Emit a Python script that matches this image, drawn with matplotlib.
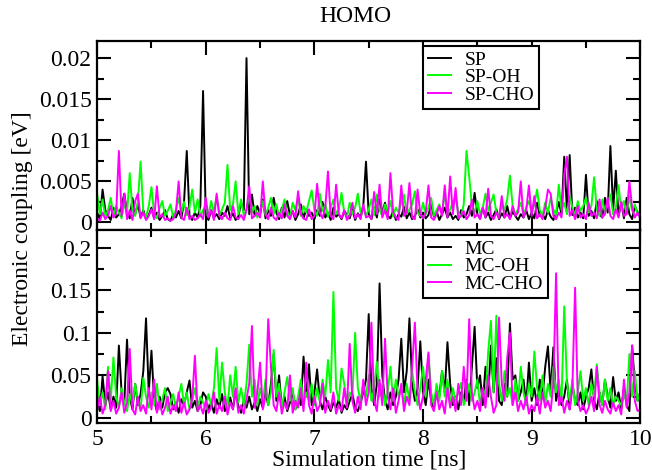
import numpy as np
import matplotlib
matplotlib.use("Agg")
import matplotlib.pyplot as plt
from matplotlib.ticker import MultipleLocator, FuncFormatter

plt.rcParams['font.family'] = ['Liberation Serif', 'DejaVu Serif']

# sampling grid: 5 to 10 ns, one frame every 25 ps
time_ns = np.linspace(5, 10, 201)

# HOMO couplings, spiropyran forms (meV)
sp = [1.2, 0.4, 4.0, 1.5, 0.8, 0.3, 1.8, 0.6, 1.0, 2.0, 3.5, 1.2, 0.5, 3.0, 1.0, 2.2, 0.6, 1.5, 0.4, 0.9,
      1.8, 0.5, 1.2, 0.3, 0.8, 1.5, 0.4, 0.2, 1.0, 0.6, 1.4, 0.5, 2.5, 8.7, 0.8, 0.3, 1.2, 0.6, 2.0, 16.0,
      0.8, 0.3, 1.5, 0.6, 1.0, 0.4, 1.2, 0.8, 2.0, 0.5, 1.1, 0.3, 0.7, 2.4, 1.5, 20.0, 1.0, 3.4, 0.8, 2.0,
      1.0, 2.8, 0.5, 1.5, 0.8, 3.0, 1.2, 0.4, 1.8, 0.6, 2.6, 0.9, 1.4, 0.3, 1.0, 2.2, 0.5, 1.6, 0.8, 1.2,
      0.4, 1.5, 0.8, 2.5, 0.6, 1.2, 0.3, 1.8, 0.7, 1.0, 0.4, 1.4, 0.9, 0.5, 1.6, 0.3, 1.1, 0.6, 2.0, 7.4,
      1.0, 0.4, 1.8, 0.6, 2.8, 1.2, 2.4, 0.8, 0.5, 1.5, 0.3, 1.0, 0.7, 1.9, 0.5, 1.2, 0.4, 0.8, 1.6, 0.6,
      1.2, 0.5, 0.9, 2.2, 0.7, 1.4, 0.3, 1.0, 1.8, 0.6, 1.2, 0.4, 0.8, 0.3, 1.5, 0.6, 1.0, 2.0, 0.8, 3.6,
      1.0, 0.5, 1.8, 0.6, 1.2, 0.3, 0.9, 1.6, 0.4, 1.1, 0.6, 2.0, 0.5, 1.3, 0.8, 0.3, 1.0, 0.6, 1.5, 0.4,
      1.2, 0.5, 2.4, 0.8, 1.0, 0.4, 1.5, 0.7, 0.3, 1.1, 2.5, 1.0, 8.0, 1.5, 8.2, 0.9, 1.8, 0.6, 1.2, 0.5,
      5.8, 0.8, 1.4, 0.5, 2.6, 1.0, 0.6, 3.0, 1.2, 9.3, 1.5, 6.3, 0.8, 2.4, 0.5, 3.0, 1.0, 0.4, 2.0, 1.2,
      0.8]
sp_oh = [3.5, 1.0, 2.8, 0.6, 1.5, 3.0, 0.8, 2.0, 1.2, 0.5, 2.4, 1.0, 6.0, 1.5, 0.8, 2.6, 7.4, 1.2, 0.6, 2.0,
         4.3, 1.0, 0.5, 1.8, 2.6, 0.8, 1.4, 2.2, 0.6, 1.5, 3.0, 1.2, 2.5, 0.9, 1.8, 4.0, 1.2, 2.8, 0.7, 1.5,
         2.0, 0.8, 2.6, 1.2, 3.2, 0.9, 1.6, 2.4, 7.0, 1.5, 2.2, 5.0, 1.0, 2.8, 0.8, 1.6, 3.4, 1.2, 2.0, 0.6,
         1.4, 2.6, 0.9, 1.8, 3.0, 1.0, 2.2, 0.7, 1.5, 2.8, 1.2, 0.6, 2.4, 1.5, 3.1, 0.8, 2.0, 1.2, 2.6, 3.9,
         1.5, 0.8, 3.5, 1.4, 2.2, 0.7, 1.8, 2.8, 1.0, 1.6, 3.6, 1.2, 0.6, 2.4, 1.0, 1.8, 3.5, 1.2, 2.0, 0.8,
         1.6, 2.8, 0.9, 3.4, 1.5, 0.8, 2.2, 1.2, 2.6, 0.7, 1.8, 1.2, 2.4, 3.4, 1.0, 1.6, 2.2, 3.8, 1.2, 0.8,
         2.4, 1.0, 1.8, 3.0, 0.8, 1.5, 2.2, 1.2, 3.5, 0.9, 1.6, 2.5, 3.0, 1.2, 0.7, 2.2, 8.7, 5.6, 2.0, 1.2,
         2.6, 1.0, 1.8, 3.5, 1.4, 2.4, 3.4, 1.2, 0.8, 2.0, 1.5, 2.8, 5.7, 2.0, 1.0, 1.6, 2.4, 0.9, 1.8, 2.6,
         1.2, 2.2, 4.0, 1.5, 0.8, 2.4, 1.2, 3.0, 1.6, 0.9, 4.6, 1.5, 2.4, 1.0, 3.2, 1.8, 0.8, 2.6, 1.4, 2.0,
         3.0, 1.2, 2.0, 5.5, 1.6, 0.8, 2.8, 1.2, 2.2, 3.4, 1.0, 1.8, 4.5, 1.5, 2.6, 1.0, 3.2, 1.4, 2.2, 0.9,
         1.5]
sp_cho = [0.5, 0.2, 1.2, 0.4, 0.8, 2.0, 0.6, 1.0, 8.7, 0.8, 3.5, 0.4, 1.5, 0.3, 2.6, 3.5, 0.5, 1.2, 0.3, 0.8,
          1.6, 0.4, 4.4, 0.6, 1.0, 0.3, 0.5, 0.2, 0.4, 1.2, 5.0, 0.6, 0.3, 1.8, 0.4, 0.8, 0.3, 0.5, 1.0, 0.4,
          3.0, 0.6, 1.5, 0.3, 3.5, 0.8, 0.4, 1.2, 0.5, 0.3, 2.0, 0.6, 0.4, 0.9, 0.3, 1.5, 4.4, 0.5, 0.8, 1.2,
          0.6, 5.0, 1.0, 0.4, 1.8, 0.6, 0.3, 1.2, 0.5, 2.2, 0.8, 0.4, 1.4, 0.6, 3.8, 1.0, 0.5, 0.3, 1.6, 0.4,
          0.8, 4.7, 1.2, 0.5, 1.8, 6.2, 0.8, 0.4, 4.6, 1.0, 0.5, 1.5, 0.3, 0.8, 2.4, 0.5, 1.0, 0.4, 2.2, 0.6,
          0.8, 0.4, 3.7, 1.0, 4.6, 0.6, 1.5, 0.4, 6.0, 1.2, 0.6, 0.3, 4.5, 0.8, 1.2, 4.8, 0.6, 0.4, 4.0, 1.0,
          0.5, 1.2, 4.5, 0.6, 0.3, 1.0, 2.0, 0.8, 4.5, 0.6, 5.6, 1.0, 4.2, 0.5, 0.8, 1.4, 0.4, 0.9, 2.8, 0.6,
          1.0, 0.4, 1.8, 0.6, 4.1, 0.8, 0.4, 1.2, 0.5, 3.2, 0.6, 1.0, 0.4, 2.0, 0.8, 1.2, 5.0, 0.6, 1.5, 4.5,
          0.8, 3.2, 0.5, 1.0, 0.4, 1.8, 4.0, 3.5, 0.8, 0.4, 1.2, 0.6, 5.8, 8.0, 0.8, 1.5, 0.4, 2.0, 0.6, 1.0,
          0.4, 2.4, 0.8, 1.2, 0.5, 2.8, 0.6, 1.0, 3.0, 0.8, 0.4, 1.6, 0.6, 2.5, 0.8, 1.0, 5.0, 1.8, 0.6, 1.2,
          0.5]

# HOMO couplings, merocyanine forms (meV)
mc = [20, 8, 49, 15, 30, 10, 25, 12, 85, 30, 18, 92, 25, 10, 40, 15, 28, 55, 117, 30,
      79, 20, 8, 25, 12, 30, 35, 28, 10, 18, 6, 22, 15, 30, 44, 12, 20, 8, 15, 30,
      25, 10, 18, 6, 22, 12, 28, 8, 15, 24, 10, 32, 14, 6, 20, 12, 25, 10, 18, 8,
      22, 12, 30, 15, 40, 75, 20, 50, 12, 25, 8, 18, 30, 10, 22, 15, 72, 25, 63, 15,
      30, 57, 20, 10, 25, 15, 8, 18, 12, 22, 6, 15, 10, 20, 28, 12, 8, 18, 30, 45,
      122, 35, 15, 40, 158, 50, 20, 10, 30, 15, 25, 45, 93, 30, 55, 117, 40, 20, 35, 90,
      30, 15, 45, 20, 10, 35, 25, 55, 30, 89, 40, 15, 25, 10, 30, 20, 45, 15, 60, 107,
      35, 50, 15, 60, 25, 85, 30, 70, 20, 15, 40, 25, 111, 45, 50, 20, 30, 45, 15, 65,
      20, 35, 15, 45, 25, 60, 84, 30, 83, 20, 35, 15, 25, 45, 10, 40, 20, 15, 30, 10,
      25, 35, 57, 20, 10, 30, 15, 45, 25, 12, 48, 20, 30, 10, 35, 15, 8, 85, 40, 20,
      30]
mc_oh = [45, 15, 30, 10, 60, 20, 71, 25, 12, 35, 18, 8, 28, 15, 40, 20, 10, 47, 25, 12,
         30, 15, 40, 10, 22, 35, 8, 18, 28, 12, 25, 40, 15, 30, 10, 20, 35, 12, 25, 18,
         10, 28, 15, 35, 82, 20, 65, 30, 12, 50, 25, 60, 18, 35, 15, 40, 86, 25, 45, 15,
         35, 20, 45, 15, 30, 80, 25, 40, 12, 30, 48, 20, 35, 10, 25, 45, 15, 30, 20, 40,
         15, 35, 20, 45, 25, 68, 30, 148, 35, 20, 58, 40, 15, 30, 25, 100, 35, 20, 40, 25,
         50, 20, 35, 66, 25, 40, 15, 30, 60, 20, 45, 25, 35, 15, 40, 20, 55, 30, 15, 35,
         60, 25, 75, 30, 15, 40, 20, 55, 25, 45, 15, 35, 20, 30, 41, 15, 25, 40, 20, 30,
         45, 15, 35, 25, 78, 114, 30, 120, 40, 20, 55, 25, 35, 15, 45, 20, 60, 30, 15, 40,
         25, 78, 35, 20, 50, 15, 40, 25, 60, 30, 45, 20, 131, 40, 20, 45, 15, 30, 55, 20,
         35, 15, 40, 25, 63, 30, 15, 45, 20, 35, 15, 25, 20, 15, 30, 18, 75, 25, 55, 20,
         30]
mc_cho = [10, 25, 5, 15, 55, 8, 20, 5, 12, 30, 6, 18, 81, 10, 4, 25, 8, 15, 5, 35,
          10, 45, 6, 20, 4, 12, 25, 5, 15, 8, 30, 6, 18, 4, 10, 22, 73, 8, 15, 5,
          20, 6, 12, 30, 5, 15, 8, 25, 4, 18, 10, 35, 6, 15, 5, 22, 40, 108, 12, 30,
          65, 10, 25, 116, 60, 15, 8, 30, 5, 18, 10, 50, 6, 20, 12, 35, 8, 65, 15, 5,
          25, 8, 15, 40, 6, 20, 10, 30, 5, 15, 8, 35, 12, 87, 20, 6, 25, 10, 45, 15,
          30, 112, 20, 8, 45, 15, 93, 25, 10, 35, 6, 20, 40, 8, 25, 15, 60, 112, 30, 10,
          25, 45, 77, 15, 8, 30, 10, 20, 5, 35, 12, 25, 8, 40, 15, 60, 20, 116, 30, 10,
          20, 8, 35, 12, 50, 25, 6, 15, 118, 40, 20, 70, 100, 15, 30, 8, 20, 10, 25, 5,
          15, 8, 25, 5, 30, 12, 20, 8, 40, 170, 15, 25, 6, 20, 10, 35, 153, 20, 8, 15,
          5, 12, 25, 8, 60, 15, 6, 20, 10, 5, 18, 8, 15, 4, 45, 12, 30, 85, 20, 8,
          10]

colors = ['black', '#00ff00', '#ff00ff']
fs = 17


def fmt(v, pos):
    return '%g' % round(v, 4)


fig = plt.figure(figsize=(6.52, 4.70), dpi=100)
ax_top = fig.add_axes([0.149, 0.511, 0.833, 0.402])
ax_bot = fig.add_axes([0.149, 0.100, 0.833, 0.411], sharex=ax_top)

for ys, lab, c in zip([sp, sp_oh, sp_cho], ['SP', 'SP-OH', 'SP-CHO'], colors):
    ax_top.plot(time_ns, np.array(ys) / 1000.0, color=c, lw=1.4, label=lab)
for ys, lab, c in zip([mc, mc_oh, mc_cho], ['MC', 'MC-OH', 'MC-CHO'], colors):
    ax_bot.plot(time_ns, np.array(ys) / 1000.0, color=c, lw=1.4, label=lab)

ax_top.set_ylim(-0.0009, 0.0221)
ax_top.yaxis.set_major_locator(MultipleLocator(0.005))
ax_top.yaxis.set_minor_locator(MultipleLocator(0.0025))
ax_bot.set_ylim(-0.006, 0.221)
ax_bot.yaxis.set_major_locator(MultipleLocator(0.05))
ax_bot.yaxis.set_minor_locator(MultipleLocator(0.025))
ax_bot.set_xlim(5, 10)
ax_bot.xaxis.set_major_locator(MultipleLocator(1))
ax_bot.xaxis.set_minor_locator(MultipleLocator(0.5))

for ax in (ax_top, ax_bot):
    ax.yaxis.set_major_formatter(FuncFormatter(fmt))
    ax.tick_params(which='both', direction='in', top=True, right=True, width=1.5, labelsize=fs, pad=4)
    ax.tick_params(which='major', length=10)
    ax.tick_params(which='minor', length=5)
    for s in ax.spines.values():
        s.set_linewidth(1.6)
    leg = ax.legend(loc='upper left', bbox_to_anchor=(0.6, 0.972), fontsize=14, frameon=True,
                    fancybox=False, edgecolor='black', framealpha=1, borderaxespad=0,
                    handlelength=1.2, handletextpad=0.7, labelspacing=0.0, borderpad=0.25)
    leg.get_frame().set_linewidth(1.5)

ax_top.tick_params(labelbottom=False)
ax_bot.set_xlabel('Simulation time [ns]', fontsize=fs, labelpad=0)
fig.text(0.034, 0.513, 'Electronic coupling [eV]', rotation=90, fontsize=fs, ha='center', va='center')
fig.text(0.545, 0.965, 'HOMO', fontsize=fs, ha='center', va='center')

fig.savefig('out.png', dpi=100)
